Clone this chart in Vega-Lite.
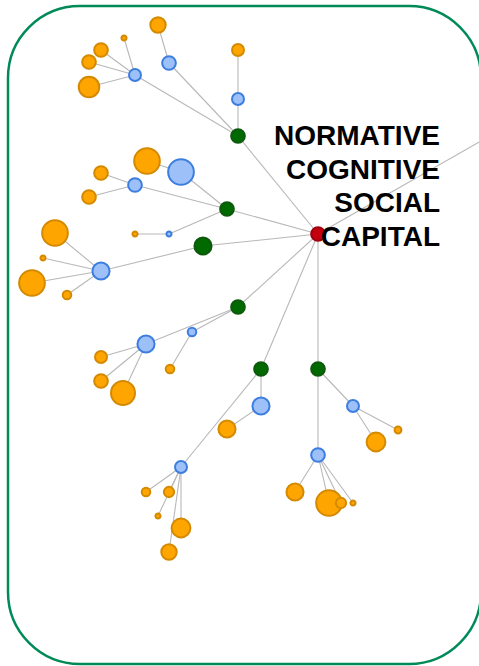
{
  "$schema": "https://vega.github.io/schema/vega-lite/v6.json",
  "width": 479,
  "height": 666,
  "padding": 0,
  "autosize": {"type": "none"},
  "background": "white",
  "config": {"view": {"stroke": null}},
  "datasets": {
    "nodes": [
      {"id": "R", "x": 318, "y": 234, "weight": 8, "group": "hub"},
      {"id": "X", "x": 481, "y": 141, "weight": 0, "group": "external"},
      {"id": "G1", "x": 238, "y": 136, "weight": 8, "group": "theme"},
      {"id": "G2", "x": 227, "y": 209, "weight": 8, "group": "theme"},
      {"id": "G3", "x": 203, "y": 246, "weight": 10, "group": "theme"},
      {"id": "G4", "x": 238, "y": 307, "weight": 8, "group": "theme"},
      {"id": "G5", "x": 261, "y": 369, "weight": 8, "group": "theme"},
      {"id": "G6", "x": 318, "y": 369, "weight": 8, "group": "theme"},
      {"id": "B1", "x": 135, "y": 75, "weight": 7, "group": "concept"},
      {"id": "B2", "x": 169, "y": 63, "weight": 8, "group": "concept"},
      {"id": "B3", "x": 238, "y": 99, "weight": 7, "group": "concept"},
      {"id": "B4", "x": 135, "y": 185, "weight": 8, "group": "concept"},
      {"id": "B5", "x": 181, "y": 172, "weight": 15, "group": "concept"},
      {"id": "B6", "x": 169, "y": 234, "weight": 3, "group": "concept"},
      {"id": "B7", "x": 101, "y": 271, "weight": 10, "group": "concept"},
      {"id": "B8", "x": 146, "y": 344, "weight": 10, "group": "concept"},
      {"id": "B9", "x": 192, "y": 332, "weight": 5, "group": "concept"},
      {"id": "B10", "x": 261, "y": 406, "weight": 10, "group": "concept"},
      {"id": "B11", "x": 181, "y": 467, "weight": 7, "group": "concept"},
      {"id": "B12", "x": 353, "y": 406, "weight": 7, "group": "concept"},
      {"id": "B13", "x": 318, "y": 455, "weight": 8, "group": "concept"},
      {"id": "O1", "x": 124, "y": 38, "weight": 3, "group": "item"},
      {"id": "O2", "x": 101, "y": 50, "weight": 8, "group": "item"},
      {"id": "O3", "x": 89, "y": 62, "weight": 8, "group": "item"},
      {"id": "O4", "x": 89, "y": 87, "weight": 12, "group": "item"},
      {"id": "O5", "x": 158, "y": 25, "weight": 9, "group": "item"},
      {"id": "O6", "x": 238, "y": 50, "weight": 7, "group": "item"},
      {"id": "O7", "x": 101, "y": 173, "weight": 8, "group": "item"},
      {"id": "O8", "x": 89, "y": 197, "weight": 8, "group": "item"},
      {"id": "O9", "x": 147, "y": 161, "weight": 15, "group": "item"},
      {"id": "O10", "x": 135, "y": 234, "weight": 3, "group": "item"},
      {"id": "O11", "x": 55, "y": 233, "weight": 15, "group": "item"},
      {"id": "O12", "x": 43, "y": 258, "weight": 3, "group": "item"},
      {"id": "O13", "x": 32, "y": 283, "weight": 15, "group": "item"},
      {"id": "O14", "x": 67, "y": 295, "weight": 5, "group": "item"},
      {"id": "O15", "x": 101, "y": 357, "weight": 7, "group": "item"},
      {"id": "O16", "x": 101, "y": 381, "weight": 8, "group": "item"},
      {"id": "O17", "x": 123, "y": 393, "weight": 14, "group": "item"},
      {"id": "O18", "x": 170, "y": 369, "weight": 5, "group": "item"},
      {"id": "O19", "x": 227, "y": 429, "weight": 10, "group": "item"},
      {"id": "O20", "x": 146, "y": 492, "weight": 5, "group": "item"},
      {"id": "O21", "x": 169, "y": 492, "weight": 6, "group": "item"},
      {"id": "O22", "x": 158, "y": 516, "weight": 3, "group": "item"},
      {"id": "O23", "x": 181, "y": 528, "weight": 11, "group": "item"},
      {"id": "O24", "x": 169, "y": 552, "weight": 9, "group": "item"},
      {"id": "O25", "x": 398, "y": 430, "weight": 4, "group": "item"},
      {"id": "O26", "x": 376, "y": 442, "weight": 11, "group": "item"},
      {"id": "O27", "x": 295, "y": 492, "weight": 10, "group": "item"},
      {"id": "O28", "x": 329, "y": 503, "weight": 15, "group": "item"},
      {"id": "O29", "x": 341, "y": 503, "weight": 6, "group": "item"},
      {"id": "O30", "x": 353, "y": 503, "weight": 3, "group": "item"}
    ],
    "edges": [
      {"source": "R", "target": "X"},
      {"source": "R", "target": "G1"},
      {"source": "R", "target": "G2"},
      {"source": "R", "target": "G3"},
      {"source": "R", "target": "G4"},
      {"source": "R", "target": "G5"},
      {"source": "R", "target": "G6"},
      {"source": "G1", "target": "B1"},
      {"source": "G1", "target": "B2"},
      {"source": "G1", "target": "B3"},
      {"source": "G2", "target": "B4"},
      {"source": "G2", "target": "B5"},
      {"source": "G2", "target": "B6"},
      {"source": "G3", "target": "B7"},
      {"source": "G4", "target": "B8"},
      {"source": "G4", "target": "B9"},
      {"source": "G5", "target": "B10"},
      {"source": "G5", "target": "B11"},
      {"source": "G6", "target": "B12"},
      {"source": "G6", "target": "B13"},
      {"source": "B1", "target": "O1"},
      {"source": "B1", "target": "O2"},
      {"source": "B1", "target": "O3"},
      {"source": "B1", "target": "O4"},
      {"source": "B2", "target": "O5"},
      {"source": "B3", "target": "O6"},
      {"source": "B4", "target": "O7"},
      {"source": "B4", "target": "O8"},
      {"source": "B5", "target": "O9"},
      {"source": "B6", "target": "O10"},
      {"source": "B7", "target": "O11"},
      {"source": "B7", "target": "O12"},
      {"source": "B7", "target": "O13"},
      {"source": "B7", "target": "O14"},
      {"source": "B8", "target": "O15"},
      {"source": "B8", "target": "O16"},
      {"source": "B8", "target": "O17"},
      {"source": "B9", "target": "O18"},
      {"source": "B10", "target": "O19"},
      {"source": "B11", "target": "O20"},
      {"source": "B11", "target": "O21"},
      {"source": "B11", "target": "O22"},
      {"source": "B11", "target": "O23"},
      {"source": "B11", "target": "O24"},
      {"source": "B12", "target": "O25"},
      {"source": "B12", "target": "O26"},
      {"source": "B13", "target": "O27"},
      {"source": "B13", "target": "O28"},
      {"source": "B13", "target": "O29"},
      {"source": "B13", "target": "O30"}
    ],
    "frame": [{"x": 8, "x2": 481, "y": 6, "y2": 664}],
    "label": [{"x": 440, "y": 145, "text": "NORMATIVE\nCOGNITIVE\nSOCIAL\nCAPITAL"}]
  },
  "layer": [
    {
      "data": {"name": "frame"},
      "mark": {"type": "rect", "filled": false, "stroke": "#008a58", "strokeWidth": 2.5, "cornerRadius": 72},
      "encoding": {
        "x": {"field": "x", "type": "quantitative", "scale": {"domain": [0, 479]}, "axis": null},
        "x2": {"field": "x2"},
        "y": {"field": "y", "type": "quantitative", "scale": {"domain": [0, 666], "reverse": true}, "axis": null},
        "y2": {"field": "y2"}
      }
    },
    {
      "data": {"name": "edges"},
      "transform": [
        {"lookup": "source", "from": {"data": {"name": "nodes"}, "key": "id", "fields": ["x", "y"]}, "as": ["sx", "sy"]},
        {"lookup": "target", "from": {"data": {"name": "nodes"}, "key": "id", "fields": ["x", "y"]}, "as": ["tx", "ty"]}
      ],
      "mark": {"type": "rule", "color": "#b8b8b8", "strokeWidth": 1.1},
      "encoding": {
        "x": {"field": "sx", "type": "quantitative", "scale": {"domain": [0, 479]}, "axis": null},
        "y": {"field": "sy", "type": "quantitative", "scale": {"domain": [0, 666], "reverse": true}, "axis": null},
        "x2": {"field": "tx"},
        "y2": {"field": "ty"}
      }
    },
    {
      "data": {"name": "nodes"},
      "transform": [{"filter": "datum.group != 'external'"}],
      "mark": {"type": "point", "filled": true, "opacity": 1, "strokeWidth": 2, "strokeOpacity": 1},
      "encoding": {
        "x": {"field": "x", "type": "quantitative", "scale": {"domain": [0, 479]}, "axis": null},
        "y": {"field": "y", "type": "quantitative", "scale": {"domain": [0, 666], "reverse": true}, "axis": null},
        "size": {"field": "weight", "type": "quantitative", "scale": {"type": "pow", "exponent": 2, "domain": [0, 15], "range": [0, 660], "zero": true}, "legend": null},
        "fill": {"field": "group", "type": "nominal", "scale": {"domain": ["hub", "theme", "concept", "item"], "range": ["#c4000f", "#006a00", "#9cc0f7", "#ffa500"]}, "legend": null},
        "stroke": {"field": "group", "type": "nominal", "scale": {"domain": ["hub", "theme", "concept", "item"], "range": ["#9e0010", "#0d5a0d", "#3c7ee0", "#d48a00"]}, "legend": null},
        "order": {"field": "weight", "type": "quantitative", "sort": "descending"}
      }
    },
    {
      "data": {"name": "label"},
      "mark": {"type": "text", "align": "right", "baseline": "alphabetic", "font": "Liberation Sans", "fontWeight": "bold", "fontSize": 28, "lineHeight": 33.7, "lineBreak": "\n", "color": "#000000"},
      "encoding": {
        "x": {"field": "x", "type": "quantitative", "scale": {"domain": [0, 479]}, "axis": null},
        "y": {"field": "y", "type": "quantitative", "scale": {"domain": [0, 666], "reverse": true}, "axis": null},
        "text": {"field": "text"}
      }
    }
  ]
}
